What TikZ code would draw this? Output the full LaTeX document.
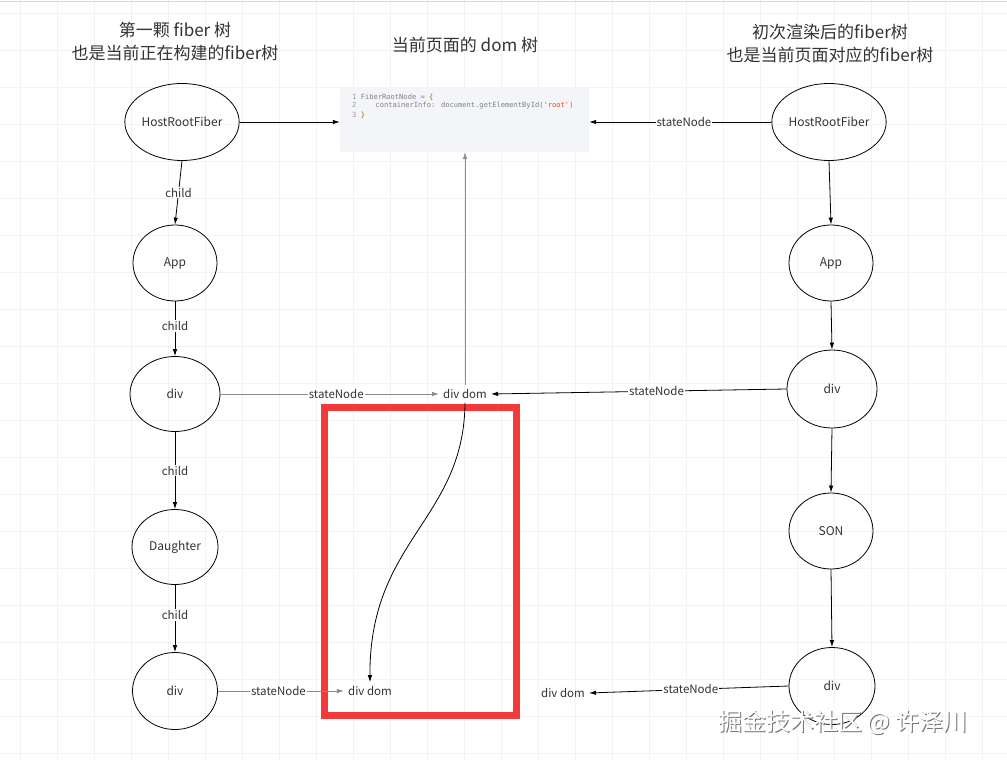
\documentclass[tikz,border=0pt]{standalone}
\usepackage{fontspec}
\setmainfont{Noto Sans CJK SC}
\newfontfamily\codefont{DejaVu Sans Mono}
\usetikzlibrary{shapes.geometric,arrows.meta}
\definecolor{txt}{HTML}{333333}
\definecolor{redbox}{HTML}{F23A3A}
\definecolor{codebg}{HTML}{F4F5F9}
\definecolor{gridc}{HTML}{F3F3F3}
\begin{document}
\begin{tikzpicture}[x=1pt,y=-1pt,
  fnode/.style={ellipse,draw=black,line width=0.8pt,inner sep=0pt,text=txt,font=\fontsize{12}{14}\selectfont},
  lbl/.style={fill=white,inner sep=1pt,text=txt,font=\fontsize{11.5}{13}\selectfont},
  plain/.style={inner sep=4pt,text=txt,font=\fontsize{11.5}{13}\selectfont},
  title/.style={align=center,text=txt,font=\fontsize{17}{23}\selectfont},
  conn/.style={line width=0.8pt,-{Latex[length=7pt,width=4.5pt]}},
  gconn/.style={conn,draw=black!45},
  codetxt/.style={anchor=west,inner sep=0pt,font=\codefont\fontsize{7.1}{8}\selectfont}
]
\useasboundingbox (0,0) rectangle (1007,760);
\fill[white] (0,0) rectangle (1007,760);
% grid
\foreach \i in {0,...,27} {\draw[gridc,line width=0.8pt] (20+37*\i,0) -- (20+37*\i,760);}
\foreach \j in {0,...,20} {\draw[gridc,line width=0.8pt] (0,13+37*\j) -- (1007,13+37*\j);}
\draw[black!15,line width=1.5pt] (0,1.5) -- (1007,1.5);

% titles
\node[title] (t1) at (175,42) {第一颗 fiber 树\\也是当前正在构建的fiber树};
\node[title] (t2) at (465,45) {当前页面的 dom 树};
\node[title] (t3) at (830,44) {初次渲染后的fiber树\\也是当前页面对应的fiber树};

% code box
\node[fill=codebg,minimum width=249pt,minimum height=64pt,inner sep=0pt] (code) at (464.5,120) {};
\node[codetxt] (c1) at (352,97) {\textcolor{black!40}{1} \textcolor{black!50}{FiberRootNode = }\textcolor{orange!70!black}{\{}};
\node[codetxt] (c2) at (352,106) {\textcolor{black!40}{2}\hspace{19pt}\textcolor{black!50}{containerInfo: document.getElementById(}\textcolor{red!45!orange}{'root'}\textcolor{black!50}{)}};
\node[codetxt] (c3) at (352,115) {\textcolor{black!40}{3} \textcolor{orange!70!black}{\}}};

% left column
\node[fnode,minimum width=100pt,minimum height=77pt] (lhrf) at (182,122) {HostRootFiber};
\node[fnode,minimum width=84pt,minimum height=76pt] (lapp) at (175,263) {App};
\node[fnode,minimum width=90pt,minimum height=75pt] (ldiv) at (175,394) {div};
\node[fnode,minimum width=86pt,minimum height=75pt] (ldau) at (175,547) {Daughter};
\node[fnode,minimum width=85pt,minimum height=77pt] (ldiv2) at (175,691) {div};

% right column
\node[fnode,minimum width=106pt,minimum height=77pt] (rhrf) at (829,122) {HostRootFiber};
\node[fnode,minimum width=84pt,minimum height=76pt] (rapp) at (831,263) {App};
\node[fnode,minimum width=90pt,minimum height=78pt] (rdiv) at (832,389) {div};
\node[fnode,minimum width=84pt,minimum height=76pt] (rson) at (831,531) {SON};
\node[fnode,minimum width=86pt,minimum height=77pt] (rdiv2) at (832,686) {div};

% dom nodes
\node[plain] (dd1) at (465,394) {div dom};
\node[plain] (dd2) at (370,691) {div dom};
\node[plain] (dd3) at (563,693) {div dom};

% red box
\draw[redbox,line width=7pt] (324,407) rectangle (516,715);

% left column edges
\draw[conn] (lhrf.south) -- (lapp.north) node[lbl,pos=0.5] {child};
\draw[conn] (lapp.south) -- (ldiv.north) node[lbl,pos=0.45] {child};
\draw[conn] (ldiv.south) -- (ldau.north) node[lbl,pos=0.5] {child};
\draw[conn] (ldau.south) -- (ldiv2.north) node[lbl,pos=0.45] {child};

% right column edges
\draw[conn] (rhrf.south) -- (rapp.north);
\draw[conn] (rapp.south) -- (rdiv.north);
\draw[conn] (rdiv.south) -- (rson.north);
\draw[conn] (rson.south) -- (rdiv2.north);

% to code box
\draw[conn] (lhrf.east) -- (lhrf.east -| code.west);
\draw[conn] (rhrf.west) -- (rhrf.west -| code.east) node[lbl,pos=0.48] {stateNode};
\draw[gconn] (dd1.north) -- (dd1.north |- code.south);

% stateNode edges
\draw[gconn] (ldiv.east) -- (dd1.west) node[lbl,pos=0.53] {stateNode};
\draw[conn] (rdiv.west) -- (dd1.east) node[lbl,pos=0.44] {stateNode};
\draw[gconn] (ldiv2.east) -- (dd2.west) node[lbl,pos=0.48] {stateNode};
\draw[conn] (rdiv2.west) -- (dd3.east) node[lbl,pos=0.49] {stateNode};

% curve
\draw[conn] (dd1.south) .. controls (464,520) and (369,540) .. (dd2.north);

% watermark
\node[text=black!55,font=\fontsize{24}{28}\selectfont] (wm0) at (844.2,723.2) {掘金技术社区 @ 许泽川};
\node[text=white,font=\fontsize{24}{28}\selectfont] (wm) at (843,722) {掘金技术社区 @ 许泽川};
\end{tikzpicture}
\end{document}
